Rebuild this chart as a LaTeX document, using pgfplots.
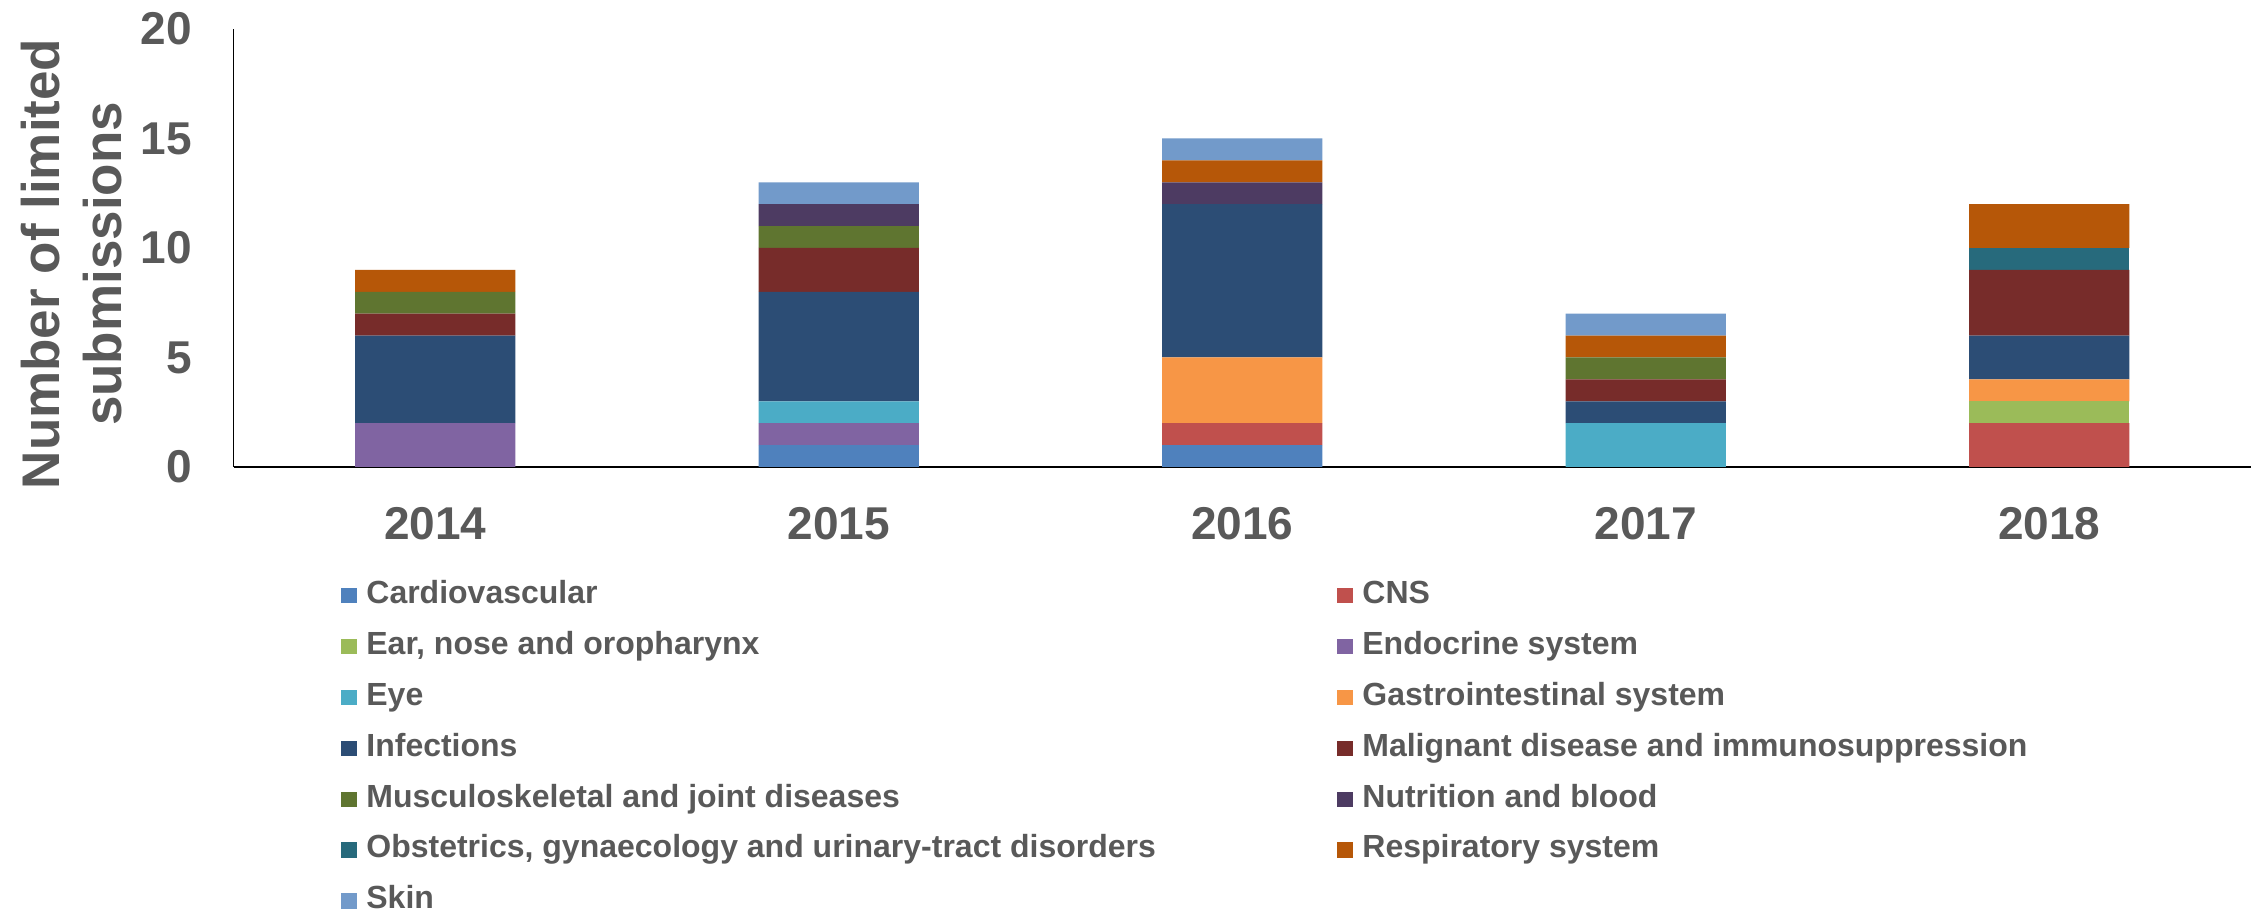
\documentclass[border=0pt]{standalone}
\usepackage{fontspec}
\setmainfont{Liberation Sans}
\usepackage{pgfplots}
\pgfplotsset{compat=1.18}
\definecolor{textgray}{HTML}{595959}
\definecolor{cCardio}{HTML}{4F81BD}
\definecolor{cCNS}{HTML}{C0504D}
\definecolor{cEar}{HTML}{9BBB59}
\definecolor{cEndo}{HTML}{8064A2}
\definecolor{cEye}{HTML}{4BACC6}
\definecolor{cGastro}{HTML}{F79646}
\definecolor{cInf}{HTML}{2C4D75}
\definecolor{cMal}{HTML}{772C2A}
\definecolor{cMus}{HTML}{5F7530}
\definecolor{cNut}{HTML}{4D3B62}
\definecolor{cObs}{HTML}{276A7C}
\definecolor{cResp}{HTML}{B65708}
\definecolor{cSkin}{HTML}{729ACA}
\pgfplotsset{
  cat/.style={fill=#1, draw=none,
    legend image code/.code={\fill[#1] (0bp,-3.8bp) rectangle (7.6bp,3.8bp);}},
}
\newcommand{\lw}[1]{\makebox[485.5bp][l]{#1}}
\begin{document}
\begin{tikzpicture}
\path[use as bounding box] (0,0) rectangle (1130bp,456.5bp);
\begin{axis}[
  at={(116.75bp,223bp)}, anchor=south west,
  scale only axis, width=1008.75bp, height=219bp,
  ybar stacked, bar width=0.397,
  xmin=-0.5, xmax=4.5, ymin=0, ymax=20,
  xtick={0,1,2,3,4}, xticklabels={2014,2015,2016,2017,2018},
  ytick={0,5,10,15,20},
  axis x line*=bottom, axis y line*=left,
  x axis line style={black, line width=1.3bp},
  y axis line style={black, line width=0.8bp},
  major tick length=0pt,
  /pgf/number format/assume math mode=true,
  tick label style={font=\fontsize{23bp}{27bp}\selectfont\bfseries, text=textgray, inner sep=0pt},
  xticklabel style={anchor=north, yshift=-20bp},
  yticklabel style={anchor=east, xshift=-20.75bp},
  ylabel={Number of limited\\submissions},
  every axis y label/.style={at={(axis description cs:-0.08005,0.4635)}, rotate=90, anchor=center,
     align=center, inner sep=0pt, font=\fontsize{26.5bp}{31bp}\selectfont\bfseries, text=textgray},
  legend columns=2,
  legend cell align=left,
  legend style={at={(axis description cs:0.05328,-0.2589)}, anchor=north west,
    draw=none, fill=none, inner sep=0pt, row sep=10.65bp,
    font=\fontsize{16bp}{19bp}\selectfont\bfseries, text=textgray,
    nodes={inner sep=0pt, text height=11.3bp, text depth=3.5bp},
    /tikz/every odd column/.append style={column sep=4.9bp}},
]
\addplot[cat=cCardio] coordinates {(0,0) (1,1) (2,1) (3,0) (4,0)};
\addlegendentry{\lw{Cardiovascular}}
\addplot[cat=cCNS] coordinates {(0,0) (1,0) (2,1) (3,0) (4,2)};
\addlegendentry{CNS}
\addplot[cat=cEar] coordinates {(0,0) (1,0) (2,0) (3,0) (4,1)};
\addlegendentry{\lw{Ear, nose and oropharynx}}
\addplot[cat=cEndo] coordinates {(0,2) (1,1) (2,0) (3,0) (4,0)};
\addlegendentry{Endocrine system}
\addplot[cat=cEye] coordinates {(0,0) (1,1) (2,0) (3,2) (4,0)};
\addlegendentry{\lw{Eye}}
\addplot[cat=cGastro] coordinates {(0,0) (1,0) (2,3) (3,0) (4,1)};
\addlegendentry{Gastrointestinal system}
\addplot[cat=cInf] coordinates {(0,4) (1,5) (2,7) (3,1) (4,2)};
\addlegendentry{\lw{Infections}}
\addplot[cat=cMal] coordinates {(0,1) (1,2) (2,0) (3,1) (4,3)};
\addlegendentry{Malignant disease and immunosuppression}
\addplot[cat=cMus] coordinates {(0,1) (1,1) (2,0) (3,1) (4,0)};
\addlegendentry{\lw{Musculoskeletal and joint diseases}}
\addplot[cat=cNut] coordinates {(0,0) (1,1) (2,1) (3,0) (4,0)};
\addlegendentry{Nutrition and blood}
\addplot[cat=cObs] coordinates {(0,0) (1,0) (2,0) (3,0) (4,1)};
\addlegendentry{\lw{Obstetrics, gynaecology and urinary-tract disorders}}
\addplot[cat=cResp] coordinates {(0,1) (1,0) (2,1) (3,1) (4,2)};
\addlegendentry{Respiratory system}
\addplot[cat=cSkin] coordinates {(0,0) (1,1) (2,1) (3,1) (4,0)};
\addlegendentry{\lw{Skin}}
\end{axis}
\end{tikzpicture}
\end{document}
